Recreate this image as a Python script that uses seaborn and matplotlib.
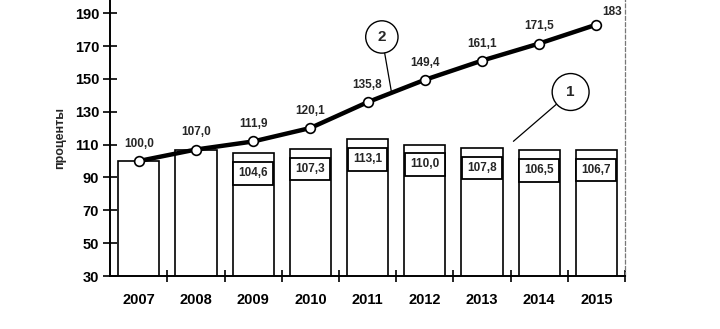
import matplotlib
matplotlib.use("Agg")
import matplotlib.pyplot as plt
import seaborn as sns
import pandas as pd
from matplotlib.ticker import FixedLocator

years = ["2007", "2008", "2009", "2010", "2011", "2012", "2013", "2014", "2015"]
annual_index = [100.0, 107.0, 104.6, 107.3, 113.1, 110.0, 107.8, 106.5, 106.7]
annual_labels = ["", "", "104,6", "107,3", "113,1", "110,0", "107,8", "106,5", "106,7"]
cumulative_index = [100.0, 107.0, 111.9, 120.1, 135.8, 149.4, 161.1, 171.5, 183.0]
cumulative_labels = ["100,0", "107,0", "111,9", "120,1", "135,8", "149,4", "161,1", "171,5", "183"]
y_ticks = [30, 50, 70, 90, 110, 130, 150, 170, 190]

df = pd.DataFrame({"year": years, "annual": annual_index, "cumulative": cumulative_index})

sns.set_theme(style="white")
plt.rcParams["font.family"] = ["Liberation Sans", "DejaVu Sans"]
plt.rcParams["font.weight"] = "bold"

fig = plt.figure(figsize=(7.2, 3.29), dpi=100)
ax = fig.add_axes([0.153, 0.161, 0.715, 0.839])

sns.barplot(data=df, x="year", y="annual", color="white", edgecolor="black",
            linewidth=1.2, width=0.72, saturation=1, ax=ax, zorder=2)

sns.pointplot(data=df, x="year", y="cumulative", color="black", ax=ax,
              markers="o", markersize=7, linewidth=3.2,
              markerfacecolor="white", markeredgecolor="black",
              markeredgewidth=1.2, zorder=4)

# value labels above the cumulative line
for i, (v, lab) in enumerate(zip(cumulative_index, cumulative_labels)):
    last = i == len(years) - 1
    ax.annotate(lab, xy=(i, v), xytext=(11 if last else 0, 5 if last else 8),
                textcoords="offset points", ha="center", va="bottom",
                fontsize=8.5, fontweight="bold", zorder=5)

# boxed labels inside the bars
for i, (v, lab) in enumerate(zip(annual_index, annual_labels)):
    if not lab:
        continue
    ax.annotate(lab, xy=(i, v), xytext=(0, -10), textcoords="offset points",
                ha="center", va="top", fontsize=8.5, fontweight="bold", zorder=5,
                bbox=dict(boxstyle="square,pad=0.45", fc="white", ec="black", lw=1.3))

# numbered callouts
ax.annotate("2", xy=(4.42, 141.5), xytext=(4.25, 175.5), textcoords="data",
            ha="center", va="center", fontsize=11, fontweight="bold",
            bbox=dict(boxstyle="circle,pad=0.6", fc="white", ec="black", lw=1.0),
            arrowprops=dict(arrowstyle="-", color="black", lw=0.9, shrinkA=0, shrinkB=0),
            zorder=6)
ax.annotate("1", xy=(6.55, 112.0), xytext=(7.55, 142.0), textcoords="data",
            ha="center", va="center", fontsize=11, fontweight="bold",
            bbox=dict(boxstyle="circle,pad=0.75", fc="white", ec="black", lw=1.0),
            arrowprops=dict(arrowstyle="-", color="black", lw=0.9, shrinkA=0, shrinkB=0),
            zorder=6)

ax.set_xlim(-0.5, 8.5)
ax.set_ylim(30, 198)
ax.set_yticks(y_ticks)
ax.set_yticklabels([str(t) for t in y_ticks], fontsize=10.5, fontweight="bold")
ax.set_xticks(range(len(years)))
ax.set_xticklabels(years, fontsize=10.5, fontweight="bold")
ax.xaxis.set_minor_locator(FixedLocator([i + 0.5 for i in range(len(years))]))
ax.tick_params(axis="x", which="major", length=0, pad=12, colors="black")
ax.tick_params(axis="x", which="minor", length=8, width=1.2, direction="inout",
               bottom=True, color="black")
ax.tick_params(axis="y", length=10, width=1.2, direction="inout", left=True,
               pad=3, colors="black")

ax.set_xlabel("")
ax.set_ylabel("проценты", fontsize=9, fontweight="bold", labelpad=6)

for side in ["left", "bottom"]:
    ax.spines[side].set_color("black")
    ax.spines[side].set_linewidth(1.4)
ax.spines["top"].set_visible(False)
ax.spines["right"].set_color("#777777")
ax.spines["right"].set_linestyle((0, (3, 2)))
ax.spines["right"].set_linewidth(0.9)

fig.savefig("out.png", dpi=100)
